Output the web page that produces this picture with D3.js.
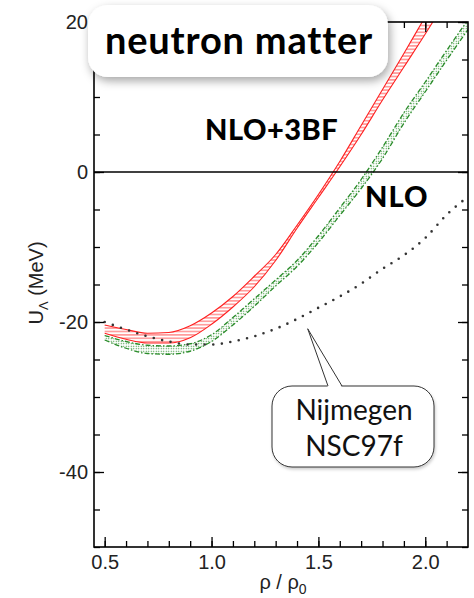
<!DOCTYPE html>
<html>
<head>
<meta charset="utf-8">
<script src="https://cdn.jsdelivr.net/npm/d3@7"></script>
<style>
  body { margin: 0; background: #fff; }
  .tick text { font-family: "Liberation Sans", Arial, sans-serif; font-size: 20px; fill: #222; }
  .axis path, .axis line { stroke: #000; }
</style>
</head>
<body>
<script>
// density (rho / rho0) grids
var rho = [0.5, 0.6, 0.7, 0.8, 0.9, 1.0, 1.1, 1.2, 1.3, 1.4, 1.5, 1.6, 1.7, 1.8, 1.9, 2.0, 2.1, 2.2];
var rhoRed = [0.5, 0.6, 0.7, 0.8, 0.9, 1.0, 1.1, 1.2, 1.3, 1.4, 1.5, 1.6, 1.7, 1.8, 1.9, 2.0, 2.1];

// NLO+3BF band (red)
var nlo3bfHigh = [-20.4, -21.0, -21.5, -21.4, -20.5, -18.8, -16.6, -13.9, -11.0, -7.1, -3.0, 1.4, 6.2, 11.0, 15.8, 20.7, 25.5];
var nlo3bfLow  = [-21.5, -22.3, -22.8, -22.8, -22.1, -20.3, -18.0, -15.3, -11.8, -7.5, -3.4, 0.7, 5.0, 9.6, 14.0, 18.4, 23.0];

// NLO band (green)
var nloHigh = [-21.8, -22.6, -23.1, -23.2, -22.9, -21.7, -19.4, -16.9, -14.4, -11.8, -8.5, -4.8, -1.0, 3.3, 7.9, 12.0, 16.2, 20.3];
var nloLow  = [-22.4, -23.5, -24.2, -24.3, -23.9, -22.6, -20.4, -17.9, -15.2, -12.6, -9.4, -5.8, -2.2, 1.8, 6.5, 10.7, 14.9, 19.0];

// Nijmegen NSC97f (dotted)
var nsc97f = [-20.0, -21.0, -21.9, -22.6, -23.0, -23.0, -22.6, -21.9, -20.9, -19.6, -18.1, -16.6, -14.9, -12.9, -11.1, -8.8, -5.7, -3.3];

var xMajor = [0.5, 1.0, 1.5, 2.0];
var xMinor = d3.range(0.5, 2.2, 0.1);
var yMajor = [-40, -20, 0, 20];
var yMinor = d3.range(-50, 21, 5);

var w = 474, h = 598;
var pLeft = 94, pRight = 468, pTop = 22, pBottom = 547;

var x = d3.scaleLinear().domain([0.45, 2.2]).range([pLeft, pRight]);
var y = d3.scaleLinear().domain([-50, 20]).range([pBottom, pTop]);

var svg = d3.select("body").append("svg")
    .attr("width", w)
    .attr("height", h);

var defs = svg.append("defs");

defs.append("clipPath").attr("id", "plot")
  .append("rect")
    .attr("x", pLeft).attr("y", pTop)
    .attr("width", pRight - pLeft).attr("height", pBottom - pTop);

var hatch = defs.append("pattern")
    .attr("id", "hatch")
    .attr("patternUnits", "userSpaceOnUse")
    .attr("width", 6).attr("height", 3.4);
hatch.append("line")
    .attr("x1", 0).attr("x2", 6).attr("y1", 1.7).attr("y2", 1.7)
    .attr("stroke", "#ff2020").attr("stroke-width", 0.8);

var dots = defs.append("pattern")
    .attr("id", "dots")
    .attr("patternUnits", "userSpaceOnUse")
    .attr("width", 2.5).attr("height", 2.5);
dots.append("circle")
    .attr("cx", 1.25).attr("cy", 1.25).attr("r", 0.65)
    .attr("fill", "#2a8c2a");

var shadow = defs.append("filter").attr("id", "shadow")
    .attr("x", "-20%").attr("y", "-30%").attr("width", "140%").attr("height", "170%");
shadow.append("feDropShadow")
    .attr("dx", 2).attr("dy", 4).attr("stdDeviation", 5)
    .attr("flood-color", "#000").attr("flood-opacity", 0.35);

var shadow2 = defs.append("filter").attr("id", "shadow2");
shadow2.append("feDropShadow")
    .attr("dx", 1).attr("dy", 2).attr("stdDeviation", 1.5)
    .attr("flood-color", "#000").attr("flood-opacity", 0.2);

// curves
var plot = svg.append("g").attr("clip-path", "url(#plot)");

var band = function(xs, hi, lo) {
  return d3.area()
    .curve(d3.curveMonotoneX)
    .x(function(d, i) { return x(xs[i]); })
    .y0(function(d, i) { return y(lo[i]); })
    .y1(function(d, i) { return y(hi[i]); })(xs);
};
var line = function(xs, ys) {
  return d3.line()
    .curve(d3.curveMonotoneX)
    .x(function(d, i) { return x(xs[i]); })
    .y(function(d, i) { return y(ys[i]); })(xs);
};

// green NLO band
plot.append("path")
    .attr("d", band(rho, nloHigh, nloLow))
    .attr("fill", "url(#dots)");
[nloHigh, nloLow].forEach(function(s) {
  plot.append("path")
      .attr("d", line(rho, s))
      .attr("fill", "none")
      .attr("stroke", "#2a8c2a")
      .attr("stroke-width", 1.3)
      .attr("stroke-dasharray", "5 2 1.5 2");
});

// red NLO+3BF band
plot.append("path")
    .attr("d", band(rhoRed, nlo3bfHigh, nlo3bfLow))
    .attr("fill", "url(#hatch)");
[nlo3bfHigh, nlo3bfLow].forEach(function(s) {
  plot.append("path")
      .attr("d", line(rhoRed, s))
      .attr("fill", "none")
      .attr("stroke", "#ff2020")
      .attr("stroke-width", 1.1);
});

// dotted Nijmegen
plot.append("path")
    .attr("d", line(rho, nsc97f))
    .attr("fill", "none")
    .attr("stroke", "#333")
    .attr("stroke-width", 2.6)
    .attr("stroke-linecap", "round")
    .attr("stroke-dasharray", "0 8.6");

// zero line
svg.append("line")
    .attr("x1", pLeft).attr("x2", pRight)
    .attr("y1", y(0)).attr("y2", y(0))
    .attr("stroke", "#000").attr("stroke-width", 1.5);

// axes, ticks point inward
var addAxis = function(axis, tr, vals, size, fmt) {
  var g = svg.append("g")
      .attr("class", "axis")
      .attr("transform", tr)
      .call(axis.tickValues(vals).tickSize(size).tickSizeOuter(0)
        .tickFormat(fmt || ""));
  g.select(".domain").remove();
  g.selectAll("line").attr("stroke-width", 1.3);
  return g;
};

addAxis(d3.axisBottom(x), "translate(0," + pBottom + ")", xMinor, -6, null);
addAxis(d3.axisBottom(x), "translate(0," + pBottom + ")", xMajor, -10, function(d) { return d.toFixed(1); })
    .selectAll("text").attr("y", 8).attr("dy", "0.71em");
addAxis(d3.axisTop(x), "translate(0," + pTop + ")", xMinor, -6, null);
addAxis(d3.axisTop(x), "translate(0," + pTop + ")", xMajor, -10, null);
addAxis(d3.axisLeft(y), "translate(" + pLeft + ",0)", yMinor, -6, null);
addAxis(d3.axisLeft(y), "translate(" + pLeft + ",0)", yMajor, -10, function(d) { return String(d); })
    .selectAll("text").attr("x", -6);
addAxis(d3.axisRight(y), "translate(" + pRight + ",0)", yMinor, -6, null);
addAxis(d3.axisRight(y), "translate(" + pRight + ",0)", yMajor, -10, null);

svg.append("rect")
    .attr("x", pLeft).attr("y", pTop)
    .attr("width", pRight - pLeft).attr("height", pBottom - pTop)
    .attr("fill", "none")
    .attr("stroke", "#000")
    .attr("stroke-width", 1.6);

// axis titles
var yt = svg.append("text")
    .attr("transform", "translate(43,283) rotate(-90)")
    .attr("text-anchor", "middle")
    .style("font-family", "'Liberation Sans', Arial, sans-serif")
    .style("font-size", "20px")
    .attr("fill", "#222");
yt.append("tspan").text("U");
yt.append("tspan").attr("dy", 5).style("font-size", "13px").text("Λ");
yt.append("tspan").attr("dy", -5).text(" (MeV)");

var xt = svg.append("text")
    .attr("x", 283).attr("y", 589)
    .attr("text-anchor", "middle")
    .style("font-family", "'Liberation Sans', Arial, sans-serif")
    .style("font-size", "20px")
    .attr("fill", "#222");
xt.append("tspan").text("ρ / ρ");
xt.append("tspan").attr("dy", 5).style("font-size", "14px").text("0");

// labels
svg.append("rect")
    .attr("x", 88).attr("y", 5)
    .attr("width", 300).attr("height", 72)
    .attr("rx", 20)
    .attr("fill", "#fff")
    .attr("filter", "url(#shadow)");
svg.append("text")
    .attr("x", 239).attr("y", 54)
    .attr("text-anchor", "middle")
    .style("font-family", "Lato, sans-serif")
    .style("font-weight", "bold")
    .style("font-size", "38px")
    .style("letter-spacing", "0.8px")
    .text("neutron matter");

svg.append("text")
    .attr("x", 205).attr("y", 140)
    .style("font-family", "Lato, sans-serif")
    .style("font-weight", 900)
    .style("font-size", "29px")
    .style("letter-spacing", "0.5px")
    .text("NLO+3BF");

svg.append("text")
    .attr("x", 365).attr("y", 207)
    .style("font-family", "Lato, sans-serif")
    .style("font-weight", 900)
    .style("font-size", "29px")
    .style("letter-spacing", "1px")
    .text("NLO");

// Nijmegen callout
var tip = [x(1.45), y(-20.9)];
svg.append("rect")
    .attr("x", 272).attr("y", 386)
    .attr("width", 162).attr("height", 81)
    .attr("rx", 20)
    .attr("fill", "#fff")
    .attr("stroke", "#333")
    .attr("stroke-width", 1)
    .attr("filter", "url(#shadow2)");
svg.append("path")
    .attr("d", "M328,387.5 L" + tip[0] + "," + tip[1] + " L342,387.5 Z")
    .attr("fill", "#fff");
svg.append("path")
    .attr("d", "M328,386 L" + tip[0] + "," + tip[1] + " L342,386")
    .attr("fill", "none")
    .attr("stroke", "#333")
    .attr("stroke-width", 1);
svg.selectAll(".nij")
    .data(["Nijmegen", "NSC97f"])
    .enter().append("text")
    .attr("class", "nij")
    .attr("x", 354)
    .attr("y", function(d, i) { return 420 + i * 36; })
    .attr("text-anchor", "middle")
    .style("font-family", "Lato, sans-serif")
    .style("font-size", "28px")
    .attr("fill", "#111")
    .text(function(d) { return d; });
</script>
</body>
</html>
